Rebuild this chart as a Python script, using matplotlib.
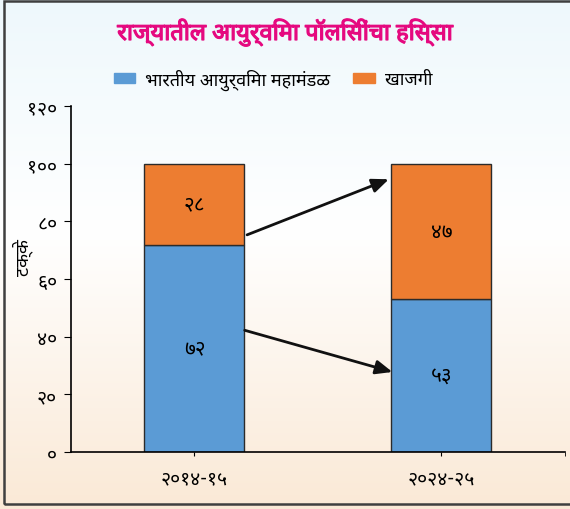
import matplotlib
matplotlib.use("Agg")
import numpy as np
import matplotlib.pyplot as plt
import matplotlib.patheffects as pe
from matplotlib import font_manager
from matplotlib.patches import Rectangle

# data
years = ["२०१४-१५", "२०२४-२५"]
lic = [72, 53]
private = [28, 47]
lic_labels = ["७२", "५३"]
private_labels = ["२८", "४७"]
y_ticks = [0, 20, 40, 60, 80, 100, 120]
y_tick_labels = ["०", "२०", "४०", "६०", "८०", "१००", "१२०"]

title = "राज्यातील आयुर्विमा पॉलिसींचा हिस्सा"
legend_names = ["भारतीय आयुर्विमा महामंडळ", "खाजगी"]
y_label = "टक्के"

# pick an installed Devanagari font
installed = {f.name for f in font_manager.fontManager.ttflist}
fam = "DejaVu Sans"
for name in ["Noto Sans Devanagari", "Lohit Devanagari", "Mukta", "Ek Mukta", "Hind", "FreeSans"]:
    if name in installed:
        fam = name
        break
plt.rcParams["font.family"] = [fam, "DejaVu Sans"]

blue = "#5B9BD5"
orange = "#ED7D31"

fig = plt.figure(figsize=(5.7, 5.1), dpi=100)

# gradient background
bg = fig.add_axes([0, 0, 1, 1], zorder=-10)
top_c = np.array([238, 248, 252]) / 255
mid_c = np.array([255, 255, 255]) / 255
bot_c = np.array([250, 233, 214]) / 255
t = np.linspace(0, 1, 256)[:, None]
grad = np.where(t < 0.46, top_c + (mid_c - top_c) * (t / 0.46),
                mid_c + (bot_c - mid_c) * ((t - 0.46) / 0.54))
bg.imshow(grad[:, None, :].repeat(2, axis=1), aspect="auto", extent=[0, 1, 0, 1])
bg.set_axis_off()
fig.add_artist(Rectangle((0.007, 0.01), 1.0, 0.986, transform=fig.transFigure,
                         fill=False, edgecolor="#3f3f3f", linewidth=1.8))

ax = fig.add_axes([0.1246, 0.1118, 0.8664, 0.678])
ax.patch.set_alpha(0)
x = np.arange(len(years))
w = 0.405
ax.bar(x, lic, width=w, color=blue, edgecolor="#2b2b2b", linewidth=1)
ax.bar(x, private, width=w, bottom=lic, color=orange, edgecolor="#2b2b2b", linewidth=1)

for i in range(len(years)):
    ax.text(x[i], lic[i] / 2, lic_labels[i], ha="center", va="center", fontsize=15)
    ax.text(x[i], lic[i] + private[i] / 2, private_labels[i], ha="center", va="center", fontsize=15)

# arrows from first bar to second
arrow_kw = dict(arrowstyle="-|>,head_length=1.0,head_width=0.42", color="#111111", lw=2)
ax.annotate("", xy=(x[1] - w / 2, 95), xytext=(x[0] + w / 2, 75), arrowprops=arrow_kw)
ax.annotate("", xy=(x[1] - w / 2 + 0.015, 27.5), xytext=(x[0] + w / 2 - 0.01, 42.5), arrowprops=arrow_kw)

ax.set_xlim(-0.5, 1.5)
ax.set_ylim(0, 120)
ax.set_yticks(y_ticks)
ax.set_yticklabels(y_tick_labels, fontsize=14)
ax.set_xticks(x)
ax.set_xticklabels(years, fontsize=14)
ax.set_xticks([1.5], minor=True)
ax.tick_params(axis="x", which="both", direction="out", length=3, pad=9)
ax.tick_params(axis="y", length=5, pad=5)
for s in ["top", "right"]:
    ax.spines[s].set_visible(False)
ax.spines["left"].set_linewidth(1.2)
ax.spines["bottom"].set_linewidth(1.2)
ax.set_ylabel(y_label, fontsize=13)
ax.yaxis.set_label_coords(-0.078, 0.566)

fig.text(0.5, 0.935, title, ha="center", va="center", fontsize=17,
         color="#E5097F",
         path_effects=[pe.withStroke(linewidth=0.9, foreground="#E5097F")])

handles = [Rectangle((0, 0), 1, 1, color=blue), Rectangle((0, 0), 1, 1, color=orange)]
fig.legend(handles, legend_names, loc="center", bbox_to_anchor=(0.479, 0.843), ncol=2,
           frameon=False, fontsize=13, handlelength=1.2, handleheight=0.45,
           handletextpad=0.55, columnspacing=1.27)

fig.savefig("out.png", dpi=100)
